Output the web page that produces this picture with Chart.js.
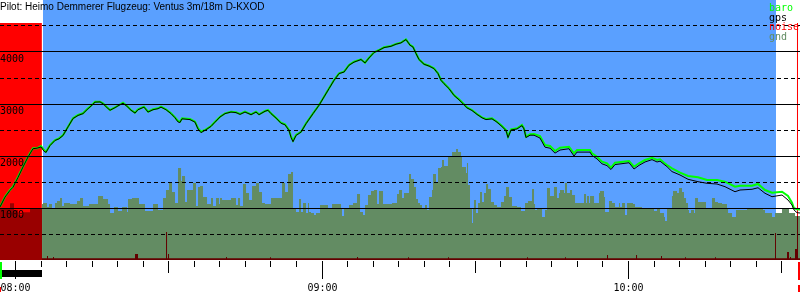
<!DOCTYPE html>
<html><head><meta charset="utf-8">
<script src="https://cdn.jsdelivr.net/npm/chart.js@4.4.0/dist/chart.umd.min.js"></script>
<style>html,body{margin:0;padding:0;background:#fff;}canvas{display:block;}</style>
</head><body>
<canvas id="c" width="800" height="300"></canvas>
<script>
// ---- text ----
const titleText = 'Pilot: Heimo Demmerer Flugzeug: Ventus 3m/18m D-KXOD';
const legendNames = ['baro', 'gps', 'noise', 'gnd'];
const xTickLabels = ['08:00', '09:00', '10:00'];
const xTickMinutes = [0, 60, 120];          // minutes after 08:00
const yTickLabels = ['1000', '2000', '3000', '4000'];

// ---- time range (minutes after 08:00) ----
const timeMin = -2.94, timeMax = 153.67;
const skyStart = 5.48, skyEnd = 148.97;
const engineEnd = 5.25;

// ---- altitude (m) ----
const altTimes = [
 -2.94,-1.96,-0.98,-0.39,0.59,1.57,2.54,3.52,4.31,5.09,
 5.68,6.07,6.85,7.83,8.61,9.40,10.38,11.35,12.33,13.31,
 14.09,14.88,15.66,16.64,17.23,18.01,18.60,19.58,20.36,21.14,
 21.93,22.71,23.49,24.08,25.25,26.04,27.01,27.99,28.58,29.56,
 30.54,31.32,31.91,32.30,32.69,34.26,35.24,35.82,36.41,37.39,
 38.37,39.15,40.13,41.11,42.28,43.26,44.05,45.02,46.20,47.18,
 47.77,48.94,49.53,50.11,51.09,52.07,52.86,53.64,54.03,54.42,
 55.01,55.99,56.97,58.34,59.51,60.49,61.47,62.45,63.43,64.41,
 65.38,66.36,67.73,68.52,69.30,70.28,71.26,72.24,73.61,74.58,
 75.56,76.54,77.33,77.91,78.50,79.09,80.07,81.04,82.02,82.81,
 83.39,83.98,84.96,85.94,86.92,87.90,88.48,89.46,90.44,91.42,
 92.20,93.38,94.36,95.34,96.12,96.51,97.10,98.27,99.25,99.64,
 100.03,100.82,101.60,102.77,103.75,104.73,105.71,106.69,108.45,109.43,
 110.02,112.56,112.95,113.93,114.91,115.89,116.67,117.46,120.20,121.18,
 122.15,123.33,124.70,125.68,126.27,127.05,127.64,128.61,130.18,131.75,
 133.70,135.47,137.42,138.99,140.95,141.93,144.28,145.45,146.82,148.19,
 150.15,151.32,152.10,152.50,153.08,153.67];
const baroAlt = [
 1025,1217,1346,1410,1602,1794,1986,2148,2148,2192,
 2115,2083,2211,2308,2340,2404,2563,2725,2788,2821,
 2898,2967,3044,3044,3013,2936,2885,2936,2981,3025,
 2961,2885,2833,2898,2948,2852,2898,2917,2948,2898,
 2821,2744,2673,2660,2725,2711,2660,2533,2467,2513,
 2577,2660,2756,2821,2852,2840,2808,2852,2802,2852,
 2802,2865,2885,2821,2736,2640,2610,2500,2371,2294,
 2404,2467,2629,2821,2981,3140,3302,3461,3590,3621,
 3750,3813,3860,3794,3890,3994,4038,4090,4115,4154,
 4179,4244,4135,4102,3975,3860,3769,3736,3686,3590,
 3461,3398,3302,3173,3090,2994,2936,2885,2808,2744,
 2711,2725,2660,2577,2500,2371,2513,2533,2596,2533,
 2371,2417,2423,2385,2211,2192,2096,2160,2179,2052,
 2115,2115,2052,1986,1890,1860,1775,1871,1904,1794,
 1860,1923,1967,1923,1937,1871,1827,1763,1679,1615,
 1590,1538,1538,1506,1410,1429,1429,1462,1346,1294,
 1313,1231,1102,994,975,971];
const gpsAlt = [
 1020,1210,1340,1400,1590,1790,1980,2140,2150,2175,
 2090,2070,2200,2300,2330,2395,2560,2720,2780,2815,
 2890,2960,3035,3040,3005,2930,2880,2930,2975,3015,
 2955,2880,2825,2890,2940,2845,2890,2910,2940,2890,
 2815,2735,2655,2645,2715,2700,2650,2520,2450,2505,
 2570,2650,2750,2815,2845,2835,2800,2845,2795,2845,
 2795,2860,2880,2815,2730,2630,2600,2490,2360,2275,
 2395,2460,2620,2815,2975,3135,3295,3455,3585,3615,
 3745,3805,3855,3790,3885,3990,4035,4085,4110,4150,
 4175,4240,4130,4095,3970,3855,3765,3730,3680,3585,
 3455,3390,3295,3165,3080,2985,2925,2875,2800,2735,
 2700,2715,2650,2565,2490,2355,2500,2520,2585,2520,
 2355,2400,2400,2345,2170,2150,2055,2115,2140,2000,
 2075,2075,2010,1945,1850,1815,1740,1835,1870,1750,
 1820,1885,1930,1885,1900,1840,1795,1700,1635,1552,
 1506,1475,1461,1410,1313,1346,1360,1390,1283,1217,
 1250,1154,1058,962,910,904];

// ---- terrain (m) ----
const gndTimes = [
 -2.94,-0.98,-0.20,0.59,1.57,2.94,5.29,5.48,6.26,6.66,
 7.24,7.83,8.22,8.81,9.20,9.59,10.77,12.14,12.72,13.31,
 14.49,16.25,17.23,18.21,18.60,19.38,20.16,20.95,21.93,22.12,
 22.90,24.27,25.45,27.01,27.99,28.97,29.56,30.15,30.73,31.32,
 31.91,32.50,32.69,33.28,33.67,34.85,35.43,35.82,36.22,36.80,
 37.59,38.37,38.76,39.35,39.94,40.13,40.52,42.28,43.26,43.65,
 44.05,44.63,45.22,45.81,46.40,47.18,47.77,48.35,48.94,50.11,
 52.27,52.86,53.44,54.03,54.42,55.01,55.60,55.99,56.38,56.97,
 57.36,57.55,57.94,58.53,58.92,59.71,61.27,62.06,63.82,64.01,
 64.41,65.38,66.17,66.95,67.54,68.12,68.52,69.10,69.69,70.28,
 70.87,71.26,72.04,73.80,74.78,75.17,75.76,76.15,77.13,77.52,
 78.11,78.50,78.89,79.28,79.67,80.26,80.65,81.04,81.63,81.83,
 82.41,82.81,83.39,83.59,83.98,84.76,85.55,86.33,86.72,87.31,
 87.50,88.29,88.48,88.68,89.07,89.46,89.66,89.85,90.24,90.64,
 91.03,91.42,91.81,92.20,92.60,93.18,93.77,94.36,95.14,95.73,
 96.12,96.71,97.29,98.27,99.05,99.84,100.42,101.21,101.60,101.80,
 102.19,103.17,103.75,104.14,104.73,105.51,106.10,106.49,106.69,107.47,
 107.67,108.06,108.65,109.04,109.63,111.39,111.78,111.97,112.37,112.56,
 113.35,114.32,114.52,115.30,115.50,116.28,116.87,117.46,118.24,118.43,
 118.83,119.41,119.81,120.98,121.37,122.74,123.33,124.31,125.09,125.68,
 126.27,127.05,127.24,127.64,128.61,128.81,129.59,129.99,130.57,130.96,
 131.36,131.75,131.94,132.33,132.92,133.12,133.70,135.27,136.44,137.03,
 137.62,138.40,139.38,139.58,140.36,141.14,143.30,146.43,146.82,148.19,
 148.78,150.15,151.52,152.69,153.67];
const gndAlt = [
 1000,1090,960,860,920,1000,1077,1096,1019,1077,
 1000,1096,1135,1192,1038,1096,1077,1135,1192,1038,
 1077,1231,1173,1077,904,1019,942,1019,923,1173,
 1192,1077,942,1077,962,1192,1346,1481,1308,1096,
 1769,1519,1615,1115,1346,1481,1038,1404,1423,1212,
 1077,1192,1038,1192,1077,1192,1154,1192,1058,1192,
 1038,1462,1288,1154,1423,1481,1308,1096,1077,1192,
 1481,1308,1654,1692,1000,923,1173,923,1096,904,
 1096,923,904,865,904,1058,1000,1077,1000,846,
 1000,1058,1096,1269,923,865,1058,1250,1327,1346,
 1077,1327,1077,1096,1269,1346,1192,1288,1654,1558,
 1404,1173,1096,1058,981,1058,962,1212,1346,1654,
 1481,1769,1788,1923,1808,1981,2077,2135,2077,1981,
 1788,1673,1865,1442,981,712,1000,1154,904,1096,
 1308,1115,1288,1462,1365,1115,1058,1019,1115,1231,
 1404,1212,1038,1019,942,1096,1135,1365,1077,962,
 1000,827,962,1385,1231,1404,1192,1288,1346,1288,
 1481,1288,1346,1250,1096,1269,1096,1231,1096,1231,
 1096,1288,1327,1212,923,1135,1096,1019,1096,1019,
 1096,865,1096,1077,1019,1000,981,1000,942,981,
 904,827,750,1000,1231,1327,1288,1385,1308,1192,
 1096,962,904,962,904,1192,1115,981,1192,1115,
 1096,1077,1000,904,827,962,1000,962,904,827,
 904,1000,904,846,846];

// ---- engine noise (scaled to chart units) ----
const noiseTimes = [
 -2.94,5.25,6.26,6.46,7.44,7.63,23.49,24.08,29.56,29.76,
 29.95,30.15,41.31,41.50,49.92,50.11,66.95,67.15,76.93,77.13,
 84.76,84.96,100.23,100.42,107.67,107.86,115.89,116.09,121.57,121.77,
 126.46,126.66,131.16,131.36,137.03,137.23,148.78,148.97,151.13,151.52,
 151.71,151.91,152.69,153.08,153.28,153.67];
const noiseLevel = [
 4558,35,77,35,60,35,115,35,538,35,
 115,35,58,35,55,35,58,35,55,35,
 55,35,55,35,55,35,96,35,96,35,
 77,35,55,35,55,35,519,35,154,35,
 58,35,212,4558,35,35];

// ---- colours ----
const skyColor = '#5aa0ff';
const gndColor = '#638c63';
const gndEngineColor = '#990000';
const baroColor = '#00ff00';
const gpsColor = '#000000';
const noiseColor = '#ff0000';
const legendColors = {baro: baroColor, gps: gpsColor, noise: noiseColor, gnd: gndColor};

const pts = (xs, ys) => xs.map((t, i) => ({x: t, y: ys[i]}));

const bgPlugin = {
  id: 'bg',
  beforeDraw(chart) {
    const {ctx} = chart; const x = chart.scales.x, y = chart.scales.y;
    ctx.save();
    ctx.fillStyle = '#fff'; ctx.fillRect(0, 0, chart.width, chart.height);
    const x0 = Math.round(x.getPixelForValue(skyStart));
    const x1 = Math.round(x.getPixelForValue(skyEnd));
    ctx.fillStyle = skyColor;
    ctx.fillRect(x0, y.top, x1 - x0, y.bottom - y.top);
    ctx.restore();
  }
};
const blendPlugin = {
  id: 'blend',
  afterDatasetDraw(chart, args) {
    const label = chart.data.datasets[args.index].label;
    if (label === 'gnd') chart.ctx.globalCompositeOperation = 'darken';
    else if (label === 'noise') chart.ctx.globalCompositeOperation = 'source-over';
  }
};
const decoPlugin = {
  id: 'deco',
  afterDraw(chart) {
    const {ctx} = chart; const x = chart.scales.x, y = chart.scales.y;
    const base = y.bottom;
    ctx.save();
    ctx.fillStyle = '#000';
    ctx.fillRect(0, base + 10, Math.round(x.getPixelForValue(engineEnd)), 7);
    ctx.fillStyle = '#00ff00';
    ctx.fillRect(Math.round(x.getPixelForValue(timeMin)), base + 2, 2, 17);
    ctx.fillStyle = '#ff0000';
    ctx.fillRect(Math.round(x.getPixelForValue(timeMin)), base + 27, 1, 5);
    const xr = Math.round(x.getPixelForValue(153.28));
    ctx.fillRect(xr, base + 2, 2, 18);
    ctx.fillRect(xr, base + 25, 2, 7);
    ctx.strokeStyle = '#000'; ctx.lineWidth = 1;
    for (let m = 0; m <= timeMax; m += 5) {
      const px = Math.round(x.getPixelForValue(m)) + 0.5;
      const len = m % 60 === 0 ? 18 : (m % 30 === 0 ? 12 : 6);
      ctx.beginPath(); ctx.moveTo(px, base + 1); ctx.lineTo(px, base + 1 + len); ctx.stroke();
    }
    ctx.fillStyle = '#000';
    ctx.font = '10px "DejaVu Sans Mono"';
    ctx.textAlign = 'center'; ctx.textBaseline = 'alphabetic';
    xTickLabels.forEach((lab, i) => {
      ctx.fillText(lab, Math.round(x.getPixelForValue(xTickMinutes[i])) + 0.5, base + 31);
    });
    ctx.textAlign = 'left';
    ctx.font = '10px "Liberation Sans"';
    ctx.fillText(titleText, 0, 10);
    ctx.font = '10px "DejaVu Sans Mono"';
    legendNames.forEach((n, i) => {
      ctx.fillStyle = legendColors[n];
      ctx.fillText(n, 769, 11 + i * 9.7);
    });
    ctx.restore();
  }
};

new Chart(document.getElementById('c'), {
  type: 'line',
  data: {
    datasets: [
      {label: 'gps', data: pts(altTimes, gpsAlt), borderColor: gpsColor, borderWidth: 1, pointRadius: 0, fill: false, tension: 0, order: 0},
      {label: 'baro', data: pts(altTimes, baroAlt), borderColor: baroColor, borderWidth: 2, pointRadius: 0, fill: false, tension: 0, order: 1},
      {label: 'noise', data: pts(noiseTimes, noiseLevel), stepped: true, fill: 'origin', backgroundColor: noiseColor, borderColor: 'rgba(0,0,0,0)', borderWidth: 0, pointRadius: 0, order: 2},
      {label: 'gnd', data: pts(gndTimes, gndAlt), stepped: true, fill: 'origin', backgroundColor: gndColor, borderColor: 'rgba(0,0,0,0)', borderWidth: 0, pointRadius: 0, order: 3,
       segment: {backgroundColor: (c) => c.p0.parsed.x < engineEnd ? gndEngineColor : undefined}}
    ]
  },
  options: {
    responsive: false, animation: false, events: [],
    layout: {padding: {left: 0, right: 0, top: 0, bottom: 40}},
    plugins: {legend: {display: false}, title: {display: false}, tooltip: {enabled: false}},
    scales: {
      x: {type: 'linear', min: timeMin, max: timeMax, display: false},
      y: {
        type: 'linear', min: 0, max: 5000,
        afterFit: (s) => { s.paddingTop = 0; s.paddingBottom = 0; },
        ticks: {
          stepSize: 500, mirror: true, padding: 0, labelOffset: 7, z: 1, color: '#000',
          autoSkip: false, maxTicksLimit: 20,
          font: {family: 'DejaVu Sans Mono', size: 10},
          callback: (v) => yTickLabels.includes(String(v)) ? String(v) : ''
        },
        grid: {
          drawTicks: false, z: 1, lineWidth: 1,
          color: (c) => (c.tick && (c.tick.value <= 0 || c.tick.value >= 5000)) ? 'rgba(0,0,0,0)' : '#000'
        },
        border: {display: false, dash: (c) => (c.tick && c.tick.value % 1000 !== 0) ? [4, 3] : []}
      }
    }
  },
  plugins: [bgPlugin, blendPlugin, decoPlugin]
});
</script>
</body></html>
